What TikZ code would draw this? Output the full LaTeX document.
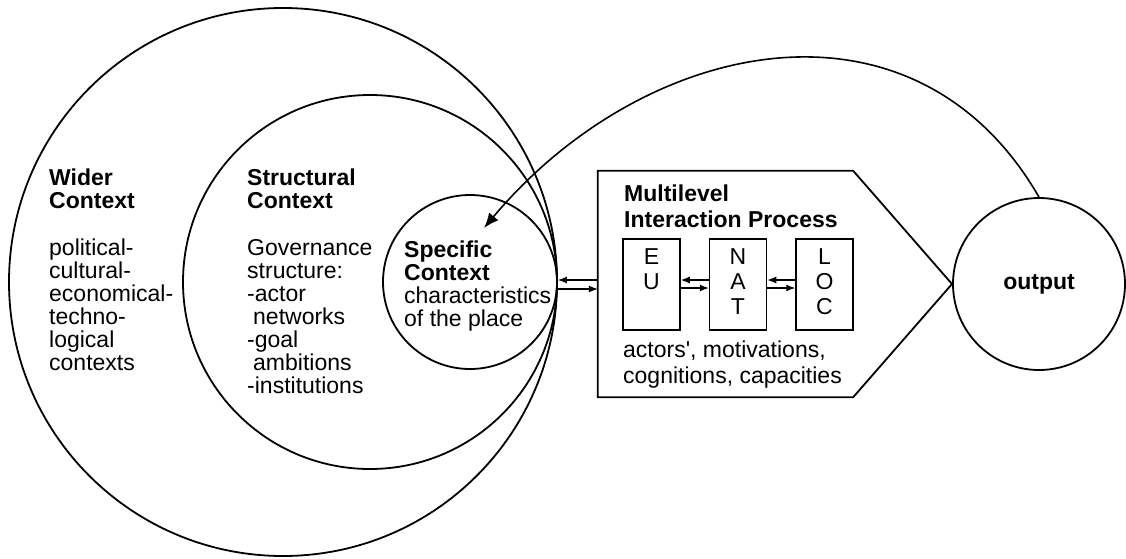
\documentclass[tikz,border=0pt]{standalone}
\usepackage{fontspec}
\setmainfont{Liberation Sans}
\usetikzlibrary{positioning,arrows.meta}
\tikzset{
   context ring/.style={ circle, draw=black, line width=1.8pt, inner sep=0pt},
   level box/.style={ rectangle, draw=black, line width=1.5pt, minimum width=57pt, minimum height=91pt, inner sep=0pt},
   level text/.style={ align=center, inner sep=0pt, font=\fontsize{23}{25}\selectfont},
   ctx text/.style={ align=left, anchor=north west, inner sep=0pt, font=\fontsize{23}{23}\selectfont},
   mip text/.style={ align=left, anchor=north west, inner sep=0pt, font=\fontsize{23}{26}\selectfont},
   flow/.style={ -{Latex[length=9pt,width=7pt]}, line width=1.2pt},
   feedback/.style={ -{Latex[length=15pt,width=12pt]}, line width=1.6pt}
}

\begin{document}
\begin{tikzpicture}[x=1pt,y=1pt]
  \useasboundingbox (0,0) rectangle (1126,558);

  %% nested contexts, all touching on the right
  \node[context ring, minimum size=548pt] at (283,276) (wider)      {};
  \node[context ring, minimum size=374pt] at (370,276) (structural) {};
  \node[context ring, minimum size=174pt] at (470,276) (specific)   {};

  \node[ctx text] at (49,389)    (wider text)      {\textbf{Wider}\\\textbf{Context}\\[24pt]political-\\cultural-\\economical-\\techno-\\logical\\contexts};
  \node[ctx text] at (247,389)   (structural text) {\textbf{Structural}\\\textbf{Context}\\[24pt]Governance\\structure:\\-actor\\\hspace{6pt}networks\\-goal\\\hspace{6pt}ambitions\\-institutions};
  \node[ctx text] at (404,317.5) (specific text)   {\textbf{Specific}\\\textbf{Context}\\characteristics\\of the place};

  %% interaction process
  \node[minimum width=255pt, minimum height=226pt, inner sep=0pt] at (725.5,274) (mip) {};
  \coordinate (mip tip) at (952,274);
  \draw[line width=1.8pt] (mip.north west) -- (mip.north east) -- (mip tip) -- (mip.south east) -- (mip.south west) -- cycle;

  \node[mip text] at (624,373.5) (mip title) {\textbf{Multilevel}\\\textbf{Interaction Process}};
  \node[mip text] at (623,217)   (mip note)  {actors\textquotesingle, motivations,\\cognitions, capacities};

  \node[level box] at (651.5,273.5)       (eu)  {};
  \node[level box, right=28pt of eu]      (nat) {};
  \node[level box, right=28pt of nat]     (loc) {};
  \node[level text, below=10pt of eu.north]  (eu letters)  {E\\U};
  \node[level text, below=10pt of nat.north] (nat letters) {N\\A\\T};
  \node[level text, below=10pt of loc.north] (loc letters) {L\\O\\C};

  \draw[flow] ([yshift=4.5pt]nat.west) -- ([yshift=4.5pt]eu.east);
  \draw[flow] ([yshift=-3.5pt]eu.east) -- ([yshift=-3.5pt]nat.west);
  \draw[flow] ([yshift=4.5pt]loc.west) -- ([yshift=4.5pt]nat.east);
  \draw[flow] ([yshift=-3.5pt]nat.east) -- ([yshift=-3.5pt]loc.west);

  \draw[flow] ([yshift=4pt]mip.west) -- ([yshift=2pt]specific.east);
  \draw[flow] ([yshift=-7pt]specific.east) -- ([yshift=-5pt]mip.west);

  %% output and feedback
  \node[context ring, minimum size=172pt, font=\fontsize{23}{25}\selectfont\bfseries] at (1039,274) (output) {output};

  \coordinate (landing) at (484,330);
  \draw[feedback] (output.north) to[out=120,in=50,looseness=1.15] (landing);

\end{tikzpicture}
\end{document}
